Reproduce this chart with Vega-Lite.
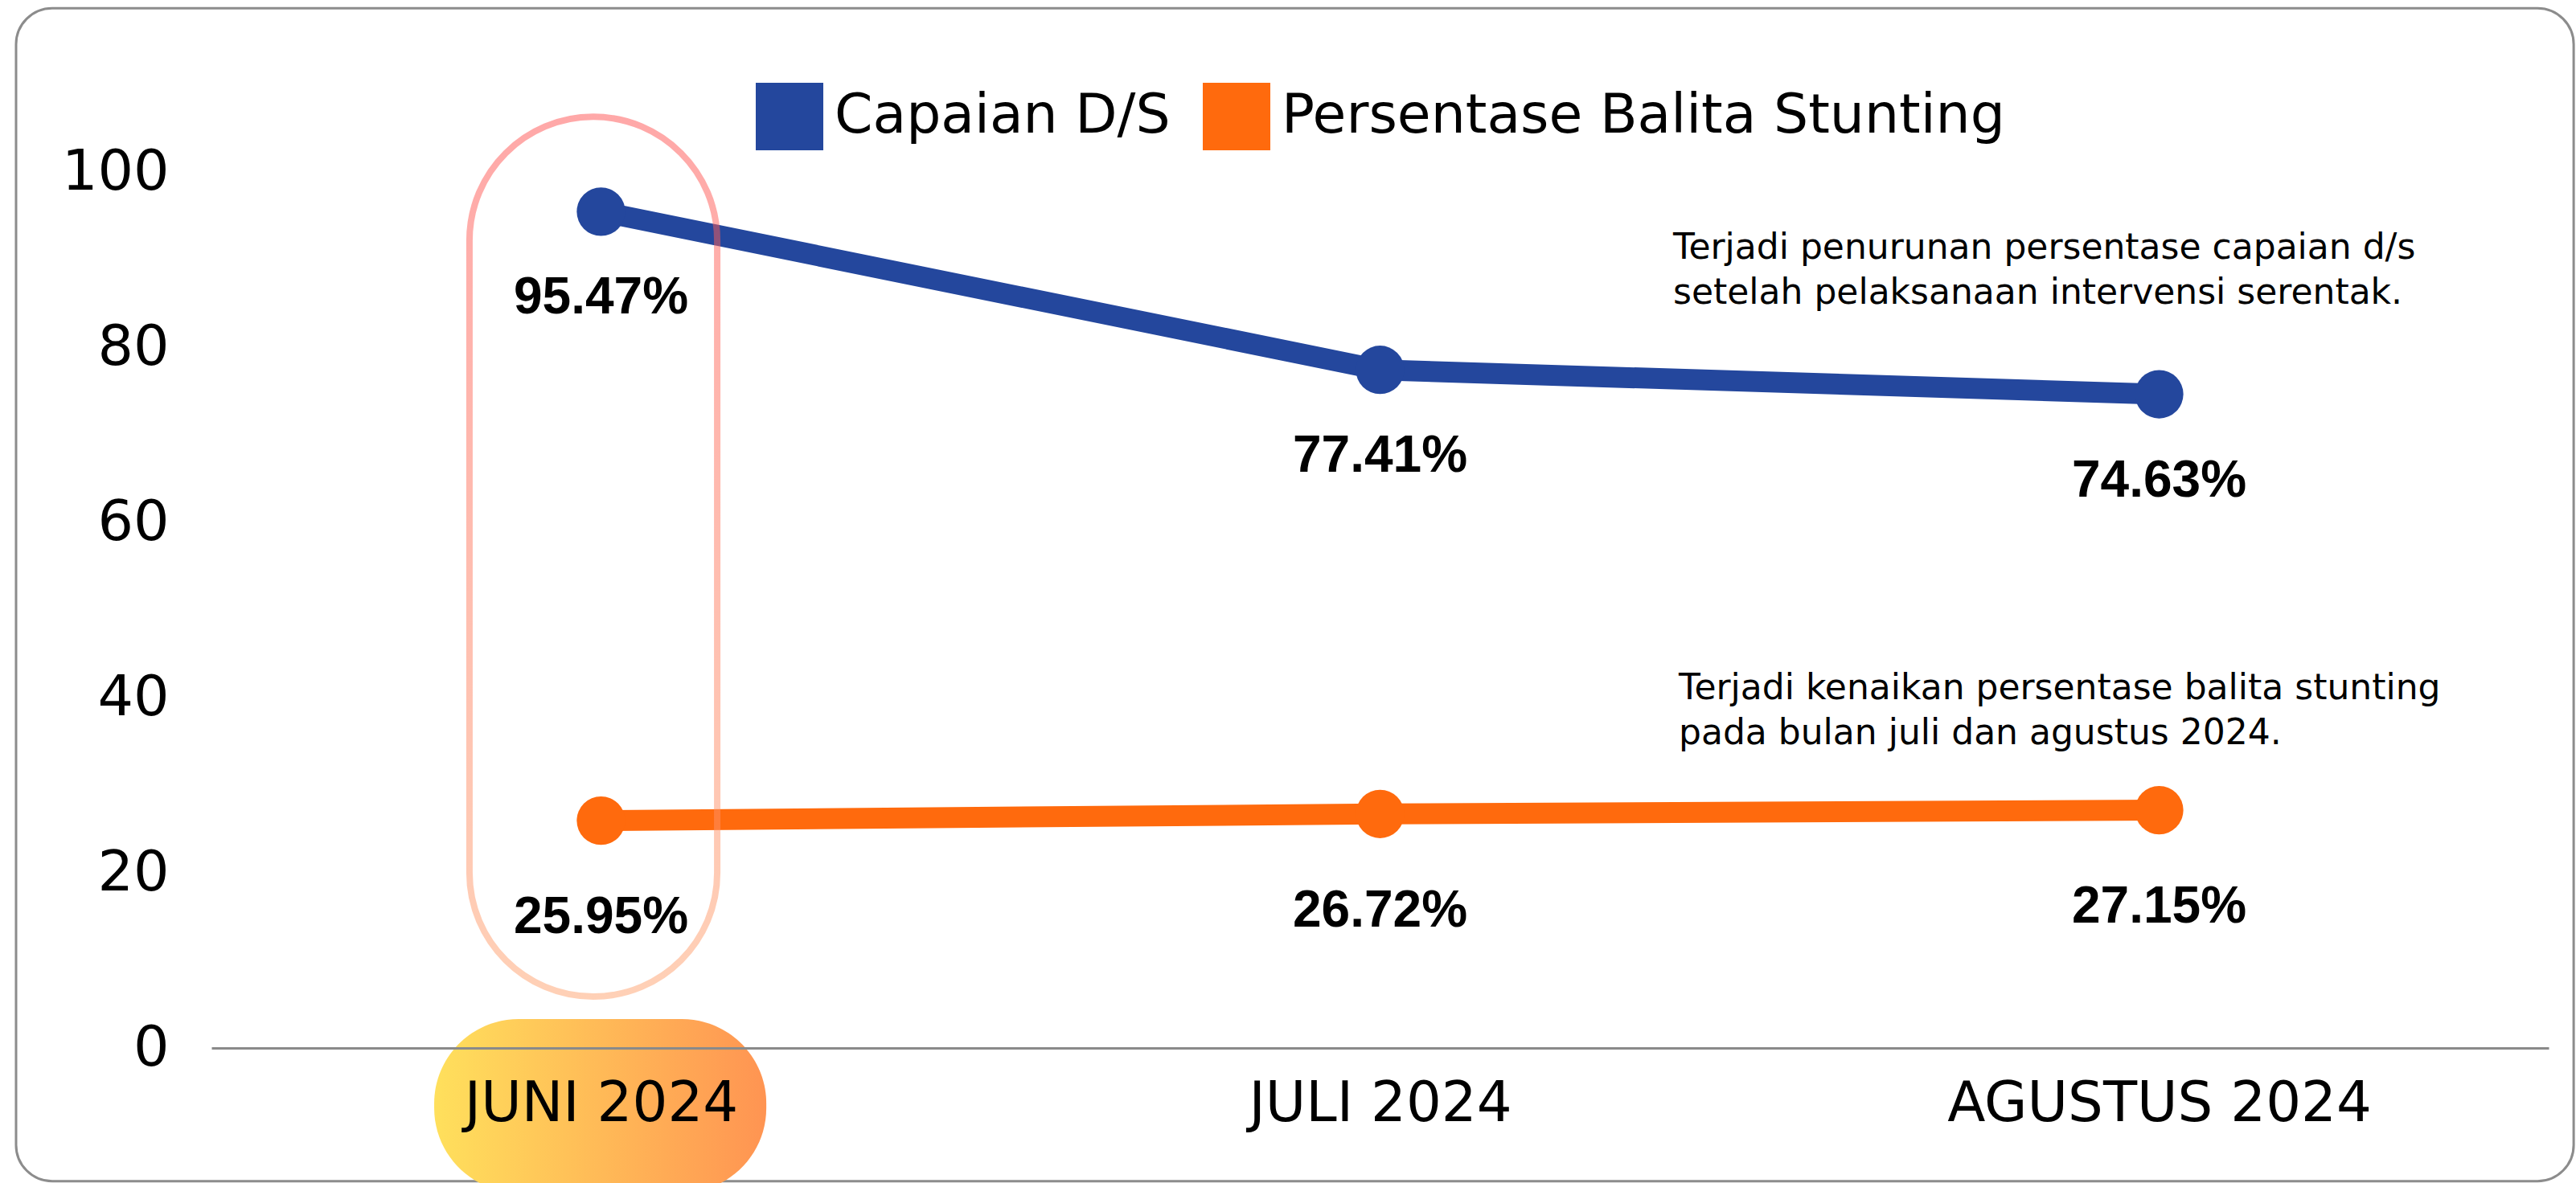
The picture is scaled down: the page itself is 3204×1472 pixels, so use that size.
{
  "$schema": "https://vega.github.io/schema/vega-lite/v6.json",
  "width": 2907,
  "height": 1090,
  "autosize": {"type": "none"},
  "padding": {"left": 263, "top": 214, "right": 34, "bottom": 168},
  "background": "white",
  "config": {"view": {"stroke": null}, "font": "DejaVu Sans"},
  "datasets": {
    "main": [
      {"bulan": "JUNI 2024", "seri": "Capaian D/S", "nilai": 95.47},
      {"bulan": "JULI 2024", "seri": "Capaian D/S", "nilai": 77.41},
      {"bulan": "AGUSTUS 2024", "seri": "Capaian D/S", "nilai": 74.63},
      {"bulan": "JUNI 2024", "seri": "Persentase Balita Stunting", "nilai": 25.95},
      {"bulan": "JULI 2024", "seri": "Persentase Balita Stunting", "nilai": 26.72},
      {"bulan": "AGUSTUS 2024", "seri": "Persentase Balita Stunting", "nilai": 27.15}
    ]
  },
  "resolve": {"scale": {"x": "independent"}},
  "layer": [
    {
      "data": {"values": [{}]},
      "encoding": {
        "x": {"type": "quantitative", "scale": {"domain": [0, 1]}, "axis": null},
        "y": {"type": "quantitative", "scale": {"domain": [0, 100]}, "title": null}
      },
      "layer": [
        {
          "mark": {"type": "rect", "fill": null, "stroke": "#8c8c8c", "strokeWidth": 3, "cornerRadius": 45},
          "encoding": {
            "x": {"datum": -0.0836}, "x2": {"datum": 1.0107},
            "y": {"datum": 118.7}, "y2": {"datum": -15.2}
          }
        },
        {
          "mark": {
            "type": "rect", "cornerRadius": 105,
            "fill": {"gradient": "linear", "x1": 0, "y1": 0, "x2": 1, "y2": 0, "stops": [{"offset": 0, "color": "#FFE05C"}, {"offset": 1, "color": "#FF9452"}]}
          },
          "encoding": {
            "x": {"datum": 0.0953}, "x2": {"datum": 0.2374},
            "y": {"datum": 3.3}, "y2": {"datum": -16.5}
          }
        }
      ]
    },
    {
      "data": {"name": "main"},
      "encoding": {
        "x": {
          "field": "bulan", "type": "ordinal",
          "scale": {"type": "point", "padding": 0.5, "domain": ["JUNI 2024", "JULI 2024", "AGUSTUS 2024"]},
          "axis": {"title": null, "labelFont": "DejaVu Sans", "labelFontSize": 69, "labelColor": "black", "labelPadding": 35, "labelLimit": 1000, "ticks": false, "domainColor": "#8a8a8a", "domainWidth": 3, "grid": false, "zindex": 1, "labelAngle": 0}
        },
        "y": {
          "field": "nilai", "type": "quantitative",
          "scale": {"domain": [0, 100]},
          "axis": {"title": null, "values": [0, 20, 40, 60, 80, 100], "labelFont": "DejaVu Sans", "labelFontSize": 70, "labelColor": "black", "labelPadding": 53, "ticks": false, "domain": false, "gridColor": "#d3d3d3", "gridWidth": 2}
        },
        "color": {
          "field": "seri", "type": "nominal",
          "scale": {"domain": ["Capaian D/S", "Persentase Balita Stunting"], "range": ["#24479D", "#FF6A0D"]},
          "legend": {"title": null, "orient": "none", "legendX": 677, "legendY": -111, "direction": "horizontal", "symbolType": "square", "symbolSize": 7056, "symbolStrokeWidth": 0, "symbolOpacity": 1, "labelFont": "DejaVu Sans", "labelFontSize": 68, "labelColor": "black", "labelOffset": 14, "columnPadding": 40, "labelLimit": 2000}
        }
      },
      "layer": [
        {
          "mark": {"type": "line", "strokeWidth": 26}
        },
        {
          "mark": {"type": "point", "filled": true, "size": 3630, "opacity": 1, "strokeWidth": 0}
        },
        {
          "transform": [
            {"filter": "datum.seri === 'Capaian D/S'"},
            {"calculate": "format(datum.nilai, '.2f') + '%'", "as": "label"}
          ],
          "mark": {"type": "text", "dy": 108, "font": "Liberation Sans", "fontWeight": "bold", "fontSize": 64},
          "encoding": {"text": {"field": "label"}, "color": {"value": "black"}}
        },
        {
          "transform": [
            {"filter": "datum.seri === 'Persentase Balita Stunting'"},
            {"calculate": "format(datum.nilai, '.2f') + '%'", "as": "label"}
          ],
          "mark": {"type": "text", "dy": 121, "font": "Liberation Sans", "fontWeight": "bold", "fontSize": 64},
          "encoding": {"text": {"field": "label"}, "color": {"value": "black"}}
        }
      ]
    },
    {
      "data": {"values": [{}]},
      "encoding": {
        "x": {"type": "quantitative", "scale": {"domain": [0, 1]}, "axis": null},
        "y": {"type": "quantitative", "scale": {"domain": [0, 100]}, "title": null}
      },
      "layer": [
        {
          "mark": {
            "type": "rect", "cornerRadius": 154, "fill": null, "strokeWidth": 8, "strokeOpacity": 0.5,
            "stroke": {"gradient": "linear", "x1": 0, "y1": 0, "x2": 0, "y2": 1, "stops": [{"offset": 0, "color": "#FF5252"}, {"offset": 1, "color": "#FFA26E"}]}
          },
          "encoding": {
            "x": {"datum": 0.1104}, "x2": {"datum": 0.2164},
            "y": {"datum": 106.3}, "y2": {"datum": 5.87}
          }
        },
        {
          "mark": {"type": "text", "align": "left", "baseline": "alphabetic", "font": "DejaVu Sans", "fontSize": 44, "lineHeight": 56, "color": "black",
            "text": ["Terjadi penurunan persentase capaian d/s", "setelah pelaksanaan intervensi serentak."]},
          "encoding": {"x": {"datum": 0.6254}, "y": {"datum": 90.09}}
        },
        {
          "mark": {"type": "text", "align": "left", "baseline": "alphabetic", "font": "DejaVu Sans", "fontSize": 44, "lineHeight": 56, "color": "black",
            "text": ["Terjadi kenaikan persentase balita stunting", "pada bulan juli dan agustus 2024."]},
          "encoding": {"x": {"datum": 0.6278}, "y": {"datum": 39.82}}
        }
      ]
    }
  ]
}
